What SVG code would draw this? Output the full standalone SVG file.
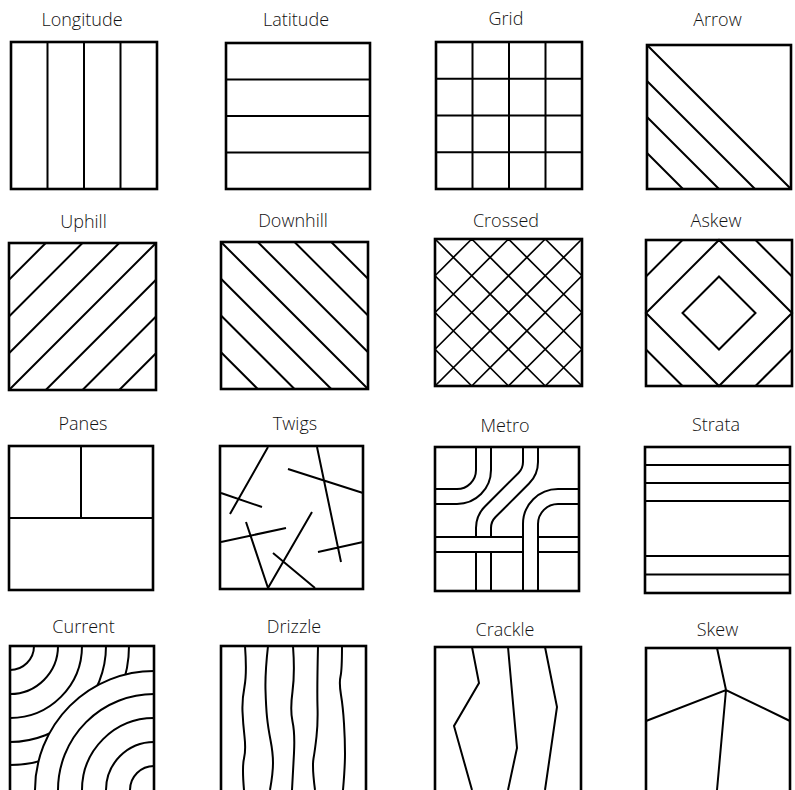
<svg xmlns="http://www.w3.org/2000/svg" width="795" height="790" viewBox="0 0 795 790">
<style>
.lbl{font-family:"Open Sans","Noto Sans","DejaVu Sans",sans-serif;font-weight:300;font-size:18px;fill:#111;text-anchor:middle}
.box{fill:none;stroke:#000;stroke-width:2.6}
.ln{fill:none;stroke:#000;stroke-width:2;stroke-linecap:butt}
.thin{fill:none;stroke:#000;stroke-width:1.7}
</style>
<defs>
<mask id="curMask" maskUnits="userSpaceOnUse" x="0" y="630" width="170" height="170">
<rect x="0" y="630" width="170" height="170" fill="#fff"/>
<circle cx="154" cy="790" r="119" fill="#000"/>
</mask>
</defs>
<rect width="795" height="790" fill="#fff"/>

<!-- Row 1 -->
<g id="longitude">
<text class="lbl" x="82" y="26">Longitude</text>
<rect class="box" x="11" y="42" width="146" height="147"/>
<path class="ln" d="M47.5,42V189M84,42V189M120.5,42V189"/>
</g>
<g id="latitude">
<text class="lbl" x="296" y="26">Latitude</text>
<rect class="box" x="226" y="43" width="144" height="146"/>
<path class="ln" d="M226,79.5H370M226,116H370M226,152.5H370"/>
</g>
<g id="grid">
<text class="lbl" x="506" y="25">Grid</text>
<rect class="box" x="436" y="42" width="146" height="147"/>
<path class="ln" d="M472.5,42V189M509,42V189M545.5,42V189M436,78.75H582M436,115.5H582M436,152.25H582"/>
</g>
<g id="arrow">
<text class="lbl" x="717.5" y="26">Arrow</text>
<rect class="box" x="647" y="45" width="144" height="144"/>
<path class="ln" d="M647,45L791,189M647,81L755,189M647,117L719,189M647,153L683,189"/>
</g>

<!-- Row 2 -->
<g id="uphill">
<text class="lbl" x="83.5" y="228">Uphill</text>
<rect class="box" x="9" y="243" width="147" height="147"/>
<path class="ln" d="M9,390L156,243M9,279.75L45.75,243M9,316.5L82.5,243M9,353.25L119.25,243M45.75,390L156,279.75M82.5,390L156,316.5M119.25,390L156,353.25"/>
</g>
<g id="downhill">
<text class="lbl" x="293" y="227">Downhill</text>
<rect class="box" x="221" y="242" width="147" height="147"/>
<path class="ln" d="M221,242L368,389M257.75,242L368,352.25M294.5,242L368,315.5M331.25,242L368,278.75M221,278.75L331.25,389M221,315.5L294.5,389M221,352.25L257.75,389"/>
</g>
<g id="crossed">
<text class="lbl" x="506" y="227">Crossed</text>
<rect class="box" x="435" y="239" width="147" height="147"/>
<path class="thin" d="M435,239L582,386M471.75,239L582,349.25M508.5,239L582,312.5M545.25,239L582,275.75M435,275.75L545.25,386M435,312.5L508.5,386M435,349.25L471.75,386M435,386L582,239M435,349.25L545.25,239M435,312.5L508.5,239M435,275.75L471.75,239M471.75,386L582,275.75M508.5,386L582,312.5M545.25,386L582,349.25"/>
</g>
<g id="askew">
<text class="lbl" x="716" y="227">Askew</text>
<rect class="box" x="646" y="240" width="146" height="146"/>
<path class="ln" d="M719,240L792,313L719,386L646,313Z M719,276.5L755.5,313L719,349.5L682.5,313Z M682.5,240L646,276.5M755.5,240L792,276.5M646,349.5L682.5,386M792,349.5L755.5,386"/>
</g>

<!-- Row 3 -->
<g id="panes">
<text class="lbl" x="83" y="430">Panes</text>
<rect class="box" x="9" y="446" width="144" height="144"/>
<path class="ln" d="M81,446V518M9,518H153"/>
</g>
<g id="twigs">
<text class="lbl" x="295" y="430">Twigs</text>
<rect class="box" x="220" y="446" width="143" height="143"/>
<path class="ln" stroke-width="2.2" d="M268,447L230,514M221,493L262,507M317,447L341,562M288,469L363,493M221,542L286,528M246,522L268,588M312,512L268,588M273,553L315,588M318,552L363,542"/>
</g>
<g id="metro">
<text class="lbl" x="505" y="432">Metro</text>
<rect class="box" x="435" y="447" width="144" height="144"/>
<path class="ln" d="M476,447V470A19,19 0 0 1 457,489H435M491,447V470A34,34 0 0 1 457,504H435"/>
<path class="ln" d="M523,447V462A15.5,15.5 0 0 1 518.46,472.96L484.93,506.43A30.5,30.5 0 0 0 476,528V537M538,447V462A30.5,30.5 0 0 1 529.07,483.57L495.54,517.04A15.5,15.5 0 0 0 491,528V537"/>
<path class="ln" d="M523,591V524A35,35 0 0 1 558,489H579M538,591V524A20,20 0 0 1 558,504H579"/>
<path class="ln" d="M435,537H523M435,552H523M538,537H579M538,552H579M476,552V591M491,552V591"/>
</g>
<g id="strata">
<text class="lbl" x="716" y="431">Strata</text>
<rect class="box" x="645" y="447" width="145" height="146"/>
<path class="ln" d="M645,465H790M645,483H790M645,501H790M645,556H790M645,574.5H790"/>
</g>

<!-- Row 4 -->
<g id="current">
<text class="lbl" x="83.5" y="633">Current</text>
<rect class="box" x="10" y="646" width="144" height="150"/>
<path class="ln" d="M34,646A24,24 0 0 1 10,670M58,646A48,48 0 0 1 10,694M82,646A72,72 0 0 1 10,718"/>
<path class="ln" mask="url(#curMask)" d="M106,646A96,96 0 0 1 10,742M129,646A119,119 0 0 1 10,765"/>
<path class="ln" d="M130,790A24,24 0 0 1 154,766M106,790A48,48 0 0 1 154,742M82,790A72,72 0 0 1 154,718M58,790A96,96 0 0 1 154,694M35,790A119,119 0 0 1 154,671"/>
</g>
<g id="drizzle">
<text class="lbl" x="294" y="633">Drizzle</text>
<rect class="box" x="221" y="646" width="145" height="150"/>
<path class="ln" d="M245,646Q247,673 244.5,686.5Q242,700 242.5,711.5Q243,723 244.5,736.5Q246,750 244,758.5Q242,767 244,790"/>
<path class="ln" d="M268,646Q265,673 265.5,690Q266,707 267,717Q268,727 270.5,740Q273,753 273,763Q273,773 270,790"/>
<path class="ln" d="M293,646Q295,673 292.5,691.5Q290,710 292.5,721.5Q295,733 294,753Q293,773 292,790"/>
<path class="ln" d="M318,646Q317,690 317.5,706.5Q318,723 316.5,736.5Q315,750 313.5,758.5Q312,767 315,790"/>
<path class="ln" d="M342,646Q342,670 340.5,676.5Q339,683 341,695Q343,707 344,723.5Q345,740 345,753.5Q345,767 343,790"/>
</g>
<g id="crackle">
<text class="lbl" x="505" y="636">Crackle</text>
<rect class="box" x="435" y="647" width="146" height="150"/>
<path class="ln" d="M472,647L479,683L454,726L472,790M508,647L517,748L508,790M545,647L557,707L545,790"/>
</g>
<g id="skew">
<text class="lbl" x="717.5" y="636">Skew</text>
<rect class="box" x="646" y="648" width="144" height="150"/>
<path class="ln" d="M717,648L726,690M646,721L726,690L790,721M726,690L717,790"/>
</g>
</svg>
